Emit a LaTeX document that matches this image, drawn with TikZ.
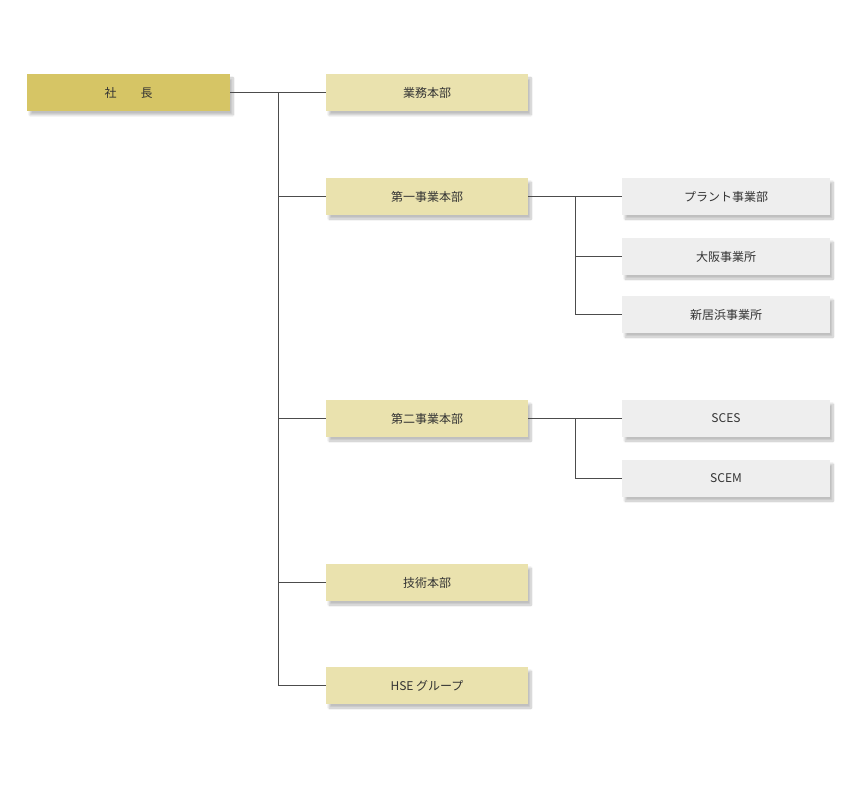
\documentclass[tikz,border=0pt]{standalone}
\usepackage{fontspec}
\setmainfont{Noto Sans CJK JP}
\usetikzlibrary{shadows.blur}
\definecolor{ceo}{HTML}{D6C565}
\definecolor{div}{HTML}{EAE2AE}
\definecolor{sub}{HTML}{EEEEEE}
\definecolor{txt}{HTML}{333333}
\tikzset{
 box/.style={minimum height=37pt,inner sep=0pt,font=\fontsize{12}{14}\selectfont,text=txt,
   blur shadow={shadow xshift=3pt,shadow yshift=-4pt,shadow blur steps=8,shadow opacity=25}},
 ceobox/.style={box,fill=ceo,minimum width=203pt},
 divbox/.style={box,fill=div,minimum width=202pt},
 subbox/.style={box,fill=sub,minimum width=208pt},
 ln/.style={draw=black!70,line width=0.8pt}
}
\begin{document}
\begin{tikzpicture}[x=1pt,y=-1pt]
\useasboundingbox (0,0) rectangle (864,810);
\node[ceobox] (ceo) at (128.5,92.5) {社\hspace{2em}長};
\node[divbox] (d1) at (427,92.5) {業務本部};
\node[divbox] (d2) at (427,196.5) {第一事業本部};
\node[divbox] (d3) at (427,418.5) {第二事業本部};
\node[divbox] (d4) at (427,582.5) {技術本部};
\node[divbox] (d5) at (427,685.5) {HSE グループ};
\node[subbox] (s1) at (726,196.5) {プラント事業部};
\node[subbox] (s2) at (726,256.5) {大阪事業所};
\node[subbox] (s3) at (726,314.5) {新居浜事業所};
\node[subbox] (s4) at (726,418.5) {SCES};
\node[subbox] (s5) at (726,478.5) {SCEM};
\coordinate (v1) at (278,92.5);
\coordinate (v2) at (575,196.5);
\coordinate (v3) at (575,418.5);
\draw[ln] (ceo.east) -- (d1.west);
\draw[ln] (v1) |- (d5.west);
\foreach \n in {d2,d3,d4} \draw[ln] (v1 |- \n.west) -- (\n.west);
\draw[ln] (d2.east) -- (s1.west);
\draw[ln] (v2) |- (s3.west);
\draw[ln] (v2 |- s2.west) -- (s2.west);
\draw[ln] (d3.east) -- (s4.west);
\draw[ln] (v3) |- (s5.west);
\end{tikzpicture}
\end{document}
